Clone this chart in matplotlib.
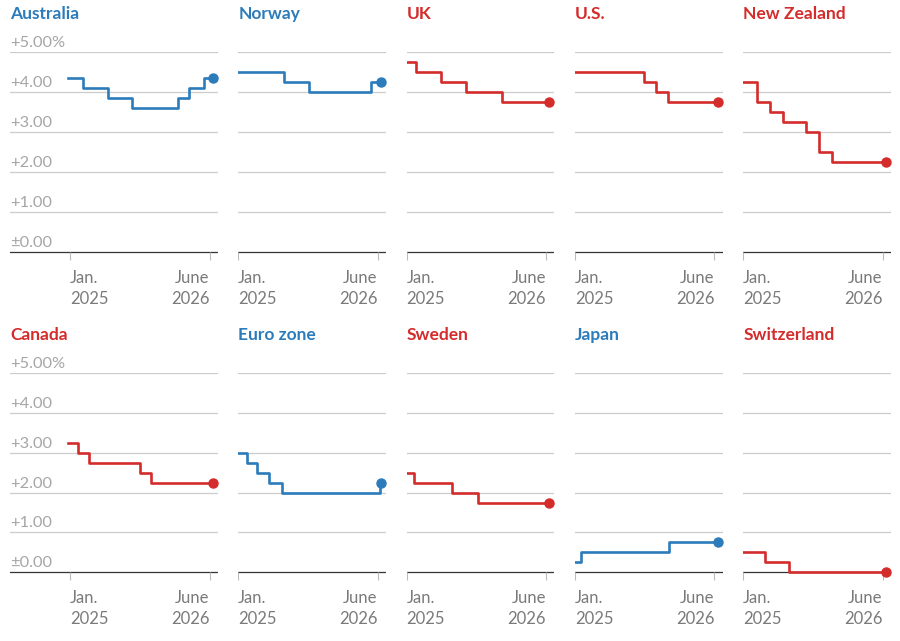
import matplotlib
matplotlib.use("Agg")
import matplotlib.pyplot as plt

plt.rcParams['font.family'] = ['Lato', 'DejaVu Sans']

BLUE = '#2c7bba'
RED = '#d42b2b'

# months since Jan. 2025 where the rate changed, and the rate (%) from then on
australia_x = [-0.25, 1.6, 4.6, 7.5, 13.1, 14.5, 16.3, 17.4]
australia_y = [4.35, 4.10, 3.85, 3.60, 3.85, 4.10, 4.35, 4.35]
norway_x = [-0.25, 5.6, 8.6, 16.2, 17.4]
norway_y = [4.50, 4.25, 4.00, 4.25, 4.25]
uk_x = [-0.25, 1.1, 4.2, 7.2, 11.6, 17.4]
uk_y = [4.75, 4.50, 4.25, 4.00, 3.75, 3.75]
us_x = [-0.25, 8.4, 9.9, 11.3, 17.4]
us_y = [4.50, 4.25, 4.00, 3.75, 3.75]
nz_x = [-0.25, 1.7, 3.3, 4.8, 7.7, 9.2, 10.8, 17.4]
nz_y = [4.25, 3.75, 3.50, 3.25, 3.00, 2.50, 2.25, 2.25]
canada_x = [-0.25, 1.0, 2.3, 8.5, 9.9, 17.4]
canada_y = [3.25, 3.00, 2.75, 2.50, 2.25, 2.25]
euro_x = [-0.25, 1.1, 2.3, 3.75, 5.3, 17.3, 17.4]
euro_y = [3.00, 2.75, 2.50, 2.25, 2.00, 2.25, 2.25]
sweden_x = [-0.25, 0.9, 5.5, 8.75, 17.4]
sweden_y = [2.50, 2.25, 2.00, 1.75, 1.75]
japan_x = [-0.25, 0.7, 11.5, 17.4]
japan_y = [0.25, 0.50, 0.75, 0.75]
swiss_x = [-0.25, 2.6, 5.6, 17.4]
swiss_y = [0.50, 0.25, 0.00, 0.00]

countries = ['Australia', 'Norway', 'UK', 'U.S.', 'New Zealand',
             'Canada', 'Euro zone', 'Sweden', 'Japan', 'Switzerland']
xs = [australia_x, norway_x, uk_x, us_x, nz_x,
      canada_x, euro_x, sweden_x, japan_x, swiss_x]
ys = [australia_y, norway_y, uk_y, us_y, nz_y,
      canada_y, euro_y, sweden_y, japan_y, swiss_y]
colors = [BLUE, BLUE, RED, RED, RED, RED, BLUE, RED, BLUE, RED]

grid_vals = [1, 2, 3, 4, 5]
y_labels = ['±0.00', '+1.00', '+2.00', '+3.00', '+4.00', '+5.00%']
tick_pos = [0, 17]
tick_labels = ['Jan.\n2025', 'June\n2026']

W, H = 900, 641
fig = plt.figure(figsize=(9, 6.41), dpi=100)

# row geometry in pixels: (bottom of axes, height)
rows = [(264.3, 212.0), (584.2, 210.9)]

for i, name in enumerate(countries):
    r, c = divmod(i, 5)
    if c == 0:
        left, width, xmin = 10.4, 207.5, -7.3
    else:
        left, width, xmin = 238.3 + (c - 1) * 168.3, 147.6, 0
    bottom, height = rows[r]
    ax = fig.add_axes([left / W, 1 - bottom / H, width / W, height / H])
    ax.set_xlim(xmin, 18)
    ax.set_ylim(-0.3, 5.0)
    ax.axis('off')

    for v in grid_vals:
        ax.axhline(v, color='#cccccc', lw=0.9, zorder=1)
    ax.axhline(0, color='#333333', lw=0.9, zorder=2)
    ax.vlines(tick_pos, -0.2, 0, color='#bbbbbb', lw=0.8)

    for t, lab in zip(tick_pos, tick_labels):
        ax.text(t, -0.45, lab, ha='left' if t == 0 else 'right', va='top',
                fontsize=12, color='#7a7a7a', linespacing=1.4)

    if c == 0:
        for v, lab in enumerate(y_labels):
            ax.text(xmin, v + 0.13, lab, ha='left', va='baseline',
                    fontsize=11.8, color='#a6a6a6')

    ax.text(xmin, 5.96, name, ha='left', va='center', fontsize=12.5,
            fontweight='bold', color=colors[i])

    ax.step(xs[i], ys[i], where='post', color=colors[i], lw=1.9, zorder=3)
    ax.plot(xs[i][-1], ys[i][-1], 'o', color=colors[i], ms=6.5, zorder=4,
            clip_on=False)

fig.savefig('out.png', dpi=100, facecolor='white')
